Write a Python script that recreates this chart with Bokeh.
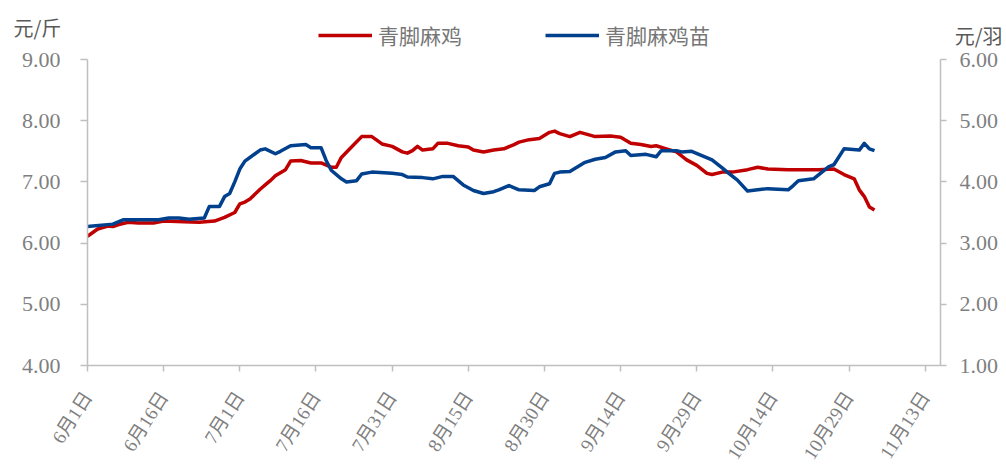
import pandas as pd
from bokeh.plotting import figure
from bokeh.models import Range1d, LinearAxis, FixedTicker, Legend, LegendItem, Title, ColumnDataSource
from bokeh.embed import file_html
from bokeh.resources import INLINE

# ---------------- data ----------------
series_names = ["青脚麻鸡", "青脚麻鸡苗"]
y_left_unit = "元/斤"
y_right_unit = "元/羽"

red_dates = ["2024-06-01", "2024-06-03", "2024-06-05", "2024-06-06", "2024-06-07", "2024-06-09",
             "2024-06-11", "2024-06-14", "2024-06-16", "2024-06-20", "2024-06-23", "2024-06-26",
             "2024-06-28", "2024-06-30", "2024-07-01", "2024-07-02", "2024-07-03", "2024-07-05",
             "2024-07-06", "2024-07-07", "2024-07-08", "2024-07-10", "2024-07-11", "2024-07-13",
             "2024-07-15", "2024-07-17", "2024-07-19", "2024-07-20", "2024-07-21", "2024-07-23",
             "2024-07-25", "2024-07-27", "2024-07-29", "2024-07-31", "2024-08-02", "2024-08-03",
             "2024-08-04", "2024-08-05", "2024-08-06", "2024-08-08", "2024-08-09", "2024-08-11",
             "2024-08-13", "2024-08-15", "2024-08-16", "2024-08-18", "2024-08-20", "2024-08-22",
             "2024-08-24", "2024-08-25", "2024-08-27", "2024-08-29", "2024-08-31", "2024-09-01",
             "2024-09-02", "2024-09-04", "2024-09-06", "2024-09-09", "2024-09-12", "2024-09-14",
             "2024-09-16", "2024-09-18", "2024-09-20", "2024-09-21", "2024-09-23", "2024-09-25",
             "2024-09-27", "2024-09-29", "2024-10-01", "2024-10-02", "2024-10-04", "2024-10-06",
             "2024-10-09", "2024-10-11", "2024-10-13", "2024-10-17", "2024-10-23", "2024-10-26",
             "2024-10-28", "2024-10-30", "2024-10-31", "2024-11-01", "2024-11-02", "2024-11-03"]
red_values = [6.11, 6.23, 6.28, 6.27, 6.30, 6.34,
              6.33, 6.33, 6.36, 6.35, 6.34, 6.36,
              6.42, 6.50, 6.64, 6.67, 6.72, 6.88,
              6.95, 7.02, 7.10, 7.20, 7.34, 7.35,
              7.31, 7.31, 7.24, 7.24, 7.40, 7.57,
              7.74, 7.74, 7.62, 7.58, 7.49, 7.47,
              7.51, 7.58, 7.52, 7.54, 7.63, 7.63,
              7.59, 7.57, 7.52, 7.49, 7.52, 7.54,
              7.61, 7.65, 7.69, 7.71, 7.81, 7.83,
              7.79, 7.74, 7.81, 7.74, 7.75, 7.73,
              7.63, 7.61, 7.58, 7.59, 7.54, 7.49,
              7.36, 7.27, 7.14, 7.12, 7.16, 7.16,
              7.20, 7.24, 7.21, 7.20, 7.20, 7.21,
              7.12, 7.05, 6.87, 6.76, 6.59, 6.54]

blue_dates = ["2024-06-01", "2024-06-06", "2024-06-08", "2024-06-15", "2024-06-17", "2024-06-19",
              "2024-06-21", "2024-06-24", "2024-06-25", "2024-06-27", "2024-06-28", "2024-06-29",
              "2024-06-30", "2024-07-01", "2024-07-02", "2024-07-04", "2024-07-05", "2024-07-06",
              "2024-07-08", "2024-07-09", "2024-07-11", "2024-07-14", "2024-07-15", "2024-07-17",
              "2024-07-18", "2024-07-19", "2024-07-21", "2024-07-22", "2024-07-24", "2024-07-25",
              "2024-07-27", "2024-07-31", "2024-08-02", "2024-08-03", "2024-08-06", "2024-08-08",
              "2024-08-10", "2024-08-12", "2024-08-14", "2024-08-16", "2024-08-18", "2024-08-20",
              "2024-08-21", "2024-08-23", "2024-08-25", "2024-08-28", "2024-08-29", "2024-08-31",
              "2024-09-01", "2024-09-02", "2024-09-04", "2024-09-07", "2024-09-09", "2024-09-11",
              "2024-09-13", "2024-09-15", "2024-09-16", "2024-09-19", "2024-09-21", "2024-09-22",
              "2024-09-25", "2024-09-26", "2024-09-28", "2024-09-30", "2024-10-02", "2024-10-04",
              "2024-10-05", "2024-10-07", "2024-10-09", "2024-10-11", "2024-10-13", "2024-10-17",
              "2024-10-18", "2024-10-19", "2024-10-22", "2024-10-25", "2024-10-26", "2024-10-28",
              "2024-10-31", "2024-11-01", "2024-11-02", "2024-11-03"]
blue_values = [3.27, 3.31, 3.38, 3.38, 3.41, 3.41,
               3.39, 3.41, 3.60, 3.60, 3.76, 3.81,
               4.00, 4.21, 4.34, 4.46, 4.52, 4.54,
               4.46, 4.50, 4.59, 4.61, 4.56, 4.56,
               4.35, 4.19, 4.05, 4.00, 4.02, 4.13,
               4.16, 4.14, 4.12, 4.08, 4.07, 4.05,
               4.09, 4.09, 3.95, 3.86, 3.81, 3.84,
               3.87, 3.94, 3.87, 3.86, 3.92, 3.97,
               4.14, 4.16, 4.17, 4.32, 4.37, 4.40,
               4.49, 4.51, 4.43, 4.45, 4.41, 4.51,
               4.51, 4.49, 4.50, 4.43, 4.36, 4.23,
               4.16, 4.03, 3.85, 3.87, 3.89, 3.87,
               3.94, 4.02, 4.05, 4.25, 4.28, 4.54,
               4.52, 4.63, 4.54, 4.51]

tick_dates = ["2024-06-01", "2024-06-16", "2024-07-01", "2024-07-16", "2024-07-31", "2024-08-15",
              "2024-08-30", "2024-09-14", "2024-09-29", "2024-10-14", "2024-10-29", "2024-11-13"]
axis_end_date = "2024-11-16"
left_ticks = [4, 5, 6, 7, 8, 9]
right_ticks = [1, 2, 3, 4, 5, 6]

# ---------------- helpers ----------------
start = pd.Timestamp(tick_dates[0])


def to_days(ds):
    return [(pd.Timestamp(d) - start).days for d in ds]


red_src = ColumnDataSource(dict(x=to_days(red_dates), y=red_values))
blue_src = ColumnDataSource(dict(x=to_days(blue_dates), y=blue_values))

tick_x = to_days(tick_dates)
tick_labels = {float(t): f"{pd.Timestamp(d).month}月{pd.Timestamp(d).day}日" for t, d in zip(tick_x, tick_dates)}

RED = "#c00000"
BLUE = "#00408c"
AXIS_C = "#bfbfbf"
LABEL_C = "#7f7f7f"
NUM_FONT = "Liberation Serif"
CJK_FONT = "Noto Sans CJK SC"

# layout (pixels): plot frame spans y 20..365; the axes cover 59..365
FRAME_TOP, AXIS_TOP, AXIS_BOTTOM = 20, 59, 365
headroom = (AXIS_TOP - FRAME_TOP) / (AXIS_BOTTOM - AXIS_TOP) * (left_ticks[-1] - left_ticks[0])

p = figure(width=1006, height=472, output_backend="svg", toolbar_location=None,
           x_range=Range1d(0, (pd.Timestamp(axis_end_date) - start).days),
           y_range=Range1d(left_ticks[0], left_ticks[-1] + headroom),
           min_border_left=87, min_border_right=66, min_border_top=FRAME_TOP, min_border_bottom=472 - AXIS_BOTTOM)
p.extra_y_ranges = {"right": Range1d(right_ticks[0], right_ticks[-1] + headroom)}
p.outline_line_color = None
p.grid.visible = False
p.background_fill_color = "white"
p.border_fill_color = "white"

r_red = p.line("x", "y", source=red_src, line_color=RED, line_width=3.5, line_join="round")
r_blue = p.line("x", "y", source=blue_src, line_color=BLUE, line_width=3.5, line_join="round",
                y_range_name="right")

# left axis
ya = p.yaxis[0]
ya.bounds = (left_ticks[0], left_ticks[-1])
ya.ticker = FixedTicker(ticks=left_ticks)
ya.major_label_overrides = {float(v): f"{v:.2f}" for v in left_ticks}
ya.axis_line_color = AXIS_C
ya.axis_line_width = 1.5
ya.major_tick_line_color = AXIS_C
ya.major_tick_line_width = 1.5
ya.major_tick_out = 7
ya.major_tick_in = 0
ya.minor_tick_line_color = None
ya.major_label_text_font = NUM_FONT
ya.major_label_text_font_size = "22px"
ya.major_label_text_color = LABEL_C
ya.major_label_standoff = 20

# right axis
ra = LinearAxis(y_range_name="right", ticker=FixedTicker(ticks=right_ticks),
                bounds=(right_ticks[0], right_ticks[-1]))
ra.major_label_overrides = {float(v): f"{v:.2f}" for v in right_ticks}
ra.axis_line_color = AXIS_C
ra.axis_line_width = 1.5
ra.major_tick_line_color = AXIS_C
ra.major_tick_line_width = 1.5
ra.major_tick_out = 6
ra.major_tick_in = 0
ra.minor_tick_line_color = None
ra.major_label_text_font = NUM_FONT
ra.major_label_text_font_size = "22px"
ra.major_label_text_color = LABEL_C
ra.major_label_standoff = 13
p.add_layout(ra, "right")

# x axis
xa = p.xaxis[0]
xa.ticker = FixedTicker(ticks=tick_x)
xa.major_label_overrides = tick_labels
xa.axis_line_color = AXIS_C
xa.axis_line_width = 1.5
xa.major_tick_line_color = AXIS_C
xa.major_tick_line_width = 1.5
xa.major_tick_out = 6
xa.major_tick_in = 0
xa.minor_tick_line_color = None
xa.major_label_orientation = 1.0
xa.major_label_text_font = f"{NUM_FONT}, {CJK_FONT}"
xa.major_label_text_font_size = "19px"
xa.major_label_text_color = LABEL_C
xa.major_label_standoff = 22

# legend inside the (extended) frame
legend = Legend(items=[LegendItem(label=series_names[0], renderers=[r_red]),
                       LegendItem(label=series_names[1], renderers=[r_blue])],
                orientation="horizontal", location=(231, AXIS_BOTTOM - 50),
                label_text_font=CJK_FONT, label_text_font_size="21px", label_text_color="#767676",
                glyph_width=54, glyph_height=24, label_height=24, label_standoff=6,
                spacing=83, padding=0, margin=0, border_line_color=None,
                background_fill_alpha=0)
p.add_layout(legend, "center")

# unit titles (zero-height title boxes above the frame, text hangs down beside the axes)
LEFT_UNIT_Y, RIGHT_UNIT_Y = 28, 36   # target text centres (px from top)
p.add_layout(Title(text=y_right_unit, align="right", offset=-62,
                   standoff=-2 * (RIGHT_UNIT_Y + 13 - FRAME_TOP), text_font=CJK_FONT,
                   text_font_size="20px", text_font_style="normal", text_color="#595959"), "above")
p.add_layout(Title(text=y_left_unit, align="left", offset=-74,
                   standoff=-2 * (LEFT_UNIT_Y + 13 - FRAME_TOP), text_font=CJK_FONT,
                   text_font_size="20px", text_font_style="normal", text_color="#595959"), "above")

open("out.html", "w").write(file_html(p, INLINE))
